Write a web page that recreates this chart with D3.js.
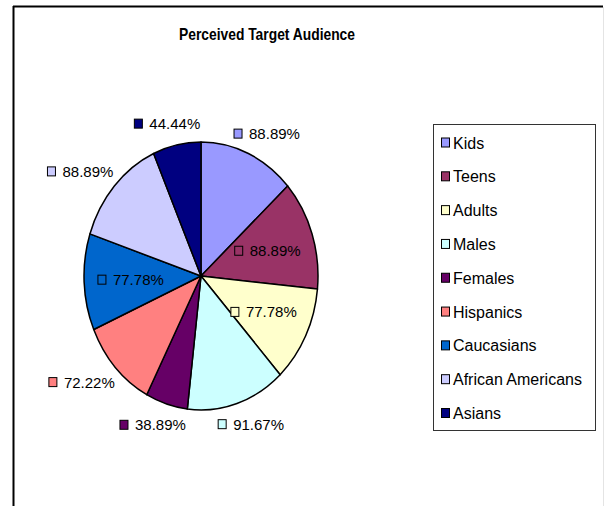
<!DOCTYPE html>
<html>
<head>
<meta charset="utf-8">
<script src="https://cdn.jsdelivr.net/npm/d3@7/dist/d3.min.js"></script>
<style>
  html, body { margin: 0; padding: 0; background: #fff; }
  svg { display: block; }
  text { font-family: "Liberation Sans", Arial, Helvetica, sans-serif; fill: #000; }
</style>
</head>
<body>
<svg id="chart" width="605" height="506"></svg>
<script>
// Survey results: share of respondents naming each group as a target audience
const categories = ["Kids", "Teens", "Adults", "Males", "Females", "Hispanics", "Caucasians", "African Americans", "Asians"];
const values = [88.89, 88.89, 77.78, 91.67, 38.89, 72.22, 77.78, 88.89, 44.44];
const colors = ["#9999FF", "#993366", "#FFFFCC", "#CCFFFF", "#660066", "#FF8080", "#0066CC", "#CCCCFF", "#000080"];
// which value labels sit inside their slice
const labelInside = [false, true, true, false, false, false, true, false, false];

const svg = d3.select("#chart");
const W = 605, H = 506;

// chart-area frame (left and top edges visible, right edge faint)
svg.append("line").attr("x1", 13.5).attr("y1", 6).attr("x2", 13.5).attr("y2", H)
  .attr("stroke", "#000").attr("stroke-width", 2);
svg.append("line").attr("x1", 13).attr("y1", 6.5).attr("x2", 603).attr("y2", 6.5)
  .attr("stroke", "#000").attr("stroke-width", 2);
svg.append("line").attr("x1", 603.5).attr("y1", 7).attr("x2", 603.5).attr("y2", H)
  .attr("stroke", "#e4e4e4").attr("stroke-width", 1);

// title
svg.append("text")
  .attr("x", 267).attr("y", 40)
  .attr("text-anchor", "middle")
  .attr("font-size", 17).attr("font-weight", "bold")
  .attr("textLength", 176).attr("lengthAdjust", "spacingAndGlyphs")
  .text("Perceived Target Audience");

// pie geometry (slightly taller than wide)
const cx = 201, cy = 276, rx = 117, ry = 134;

const pie = d3.pie().sort(null).value(d => d.value);
const arcs = pie(categories.map((c, i) => ({ name: c, value: values[i], color: colors[i], inside: labelInside[i] })));
const arc = d3.arc().innerRadius(0).outerRadius(rx);

const pieG = svg.append("g").attr("transform", `translate(${cx},${cy}) scale(1,${ry / rx})`);
pieG.selectAll("path")
  .data(arcs)
  .join("path")
  .attr("d", arc)
  .attr("fill", d => d.data.color)
  .attr("stroke", "#000")
  .attr("stroke-width", 1.5)
  .attr("stroke-linejoin", "round")
  .attr("vector-effect", "non-scaling-stroke");

// value labels: small colour key + percentage
const fs = 15, sw = 8, gap = 7;
const labels = svg.append("g");
arcs.forEach(d => {
  const g = labels.append("g");
  g.append("rect")
    .attr("x", 0).attr("y", -sw / 2 - 0.5).attr("width", sw).attr("height", sw + 1)
    .attr("fill", d.data.color).attr("stroke", "#000").attr("stroke-width", 1);
  const t = g.append("text")
    .attr("x", sw + gap).attr("y", fs * 0.36)
    .attr("font-size", fs)
    .text(d3.format(".2f")(d.data.value) + "%");
  const w = sw + gap + t.node().getComputedTextLength();
  const h = 14;
  const a = (d.startAngle + d.endAngle) / 2;
  const s = Math.sin(a), c = Math.cos(a);
  let mx, my;
  if (d.data.inside) {
    mx = cx + s * rx * 0.6;
    my = cy - c * ry * 0.6;
  } else {
    const k = 1.11;
    mx = cx + s * rx * k + s * w / 2;
    my = cy - c * ry * k - c * h / 2;
  }
  g.attr("transform", `translate(${mx - w / 2},${my})`);
});

// legend
const lg = svg.append("g");
lg.append("rect")
  .attr("x", 433.5).attr("y", 124.5).attr("width", 162).attr("height", 306)
  .attr("fill", "#fff").attr("stroke", "#333").attr("stroke-width", 1);
const rowY = d3.scalePoint().domain(categories).range([142.5, 413]);
categories.forEach((c, i) => {
  const y = rowY(c);
  lg.append("rect")
    .attr("x", 441.5).attr("y", y - 4.5).attr("width", 8).attr("height", 9)
    .attr("fill", colors[i]).attr("stroke", "#000").attr("stroke-width", 1);
  lg.append("text")
    .attr("x", 453).attr("y", y + 6)
    .attr("font-size", 16)
    .text(c);
});
</script>
</body>
</html>
